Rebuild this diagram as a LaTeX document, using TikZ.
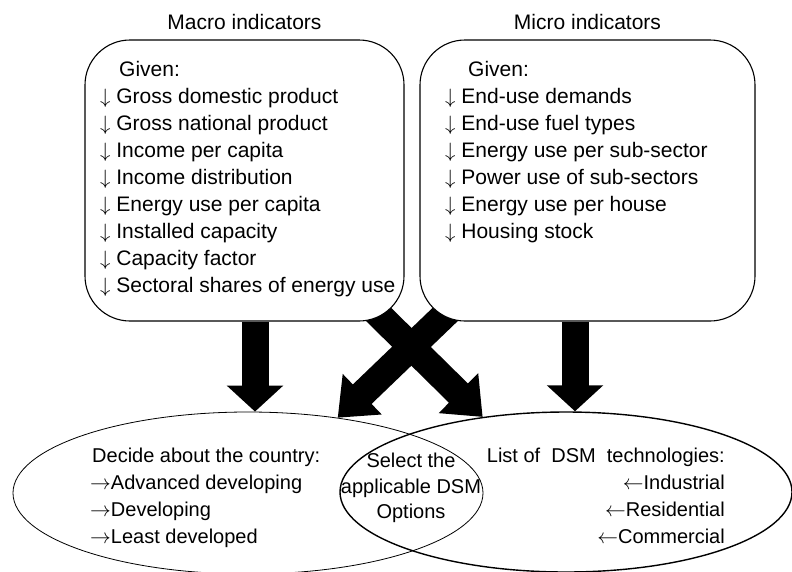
\documentclass[tikz,border=0pt]{standalone}
\usepackage{fontspec}
\setmainfont{Liberation Sans}
\usetikzlibrary{positioning, shapes.geometric, arrows.meta, backgrounds}

\begin{document}
\begin{tikzpicture}[
    x=1pt, y=-1pt,
    panel/.style={draw, fill=white, rounded corners=45pt, line width=1.1pt,
                  minimum width=319pt, minimum height=281pt, inner sep=0pt},
    oval/.style={draw, ellipse, inner sep=0pt, minimum width=470pt,
                 minimum height=162pt, line width=0.8pt},
    title/.style={font=\fontsize{21}{25}\selectfont, inner sep=0pt},
    item/.style={font=\fontsize{21}{25}\selectfont, inner sep=0pt, anchor=base west},
    pick/.style={font=\fontsize{20}{25.5}\selectfont, inner sep=0pt},
    fat/.style={line width=27pt, -{Triangle[width=55pt,length=26pt]}},
    fatx/.style={line width=27pt, -{Triangle[width=54pt,length=34pt]}}
  ]
  \useasboundingbox (0,0) rectangle (792,571);
  \clip (0,0) rectangle (792,571);
  % -- indicator panels --
  \node[panel] (macro) at (244.5,180.5) {};
  \node[panel, minimum width=335pt] (micro) at (587.5,180.5) {};
  \node[title, above=9.5pt of macro] (macrotitle) {Macro indicators};
  \node[title, above=9.5pt of micro] (microtitle) {Micro indicators};
  \node[item] (ma0) at (119,76) {Given:};
  \foreach \t [count=\i] in {Gross domestic product, Gross national product,
      Income per capita, Income distribution, Energy use per capita,
      Installed capacity, Capacity factor, Sectoral shares of energy use}{
    \node[item] (ma\i) at (100,{76+27*\i}) {$\downarrow$ \t};
  }
  \node[item] (mi0) at (468,76) {Given:};
  \foreach \t [count=\i] in {End-use demands, End-use fuel types,
      Energy use per sub-sector, Power use of sub-sectors,
      Energy use per house, Housing stock}{
    \node[item] (mi\i) at (445,{76+27*\i}) {$\downarrow$ \t};
  }
  % -- decision ovals --
  \node[oval] (country) at (248,493) {};
  \node[oval, minimum width=452pt, minimum height=160pt, line width=1.4pt] (dsmtech) at (566,492) {};
  \node[pick, anchor=base west] (cty0) at (92,462) {Decide about the country:};
  \foreach \t [count=\i] in {Advanced developing, Developing, Least developed}{
    \node[pick, anchor=base west] (cty\i) at (90,{462+27.3*\i}) {$\rightarrow$\t};
  }
  \node[pick, anchor=base east] (tec0) at (725,462) {List of~ DSM~ technologies:};
  \foreach \t [count=\i] in {Industrial, Residential, Commercial}{
    \node[pick, anchor=base east] (tec\i) at (725,{462+27.3*\i}) {$\leftarrow$\t};
  }
  \node[pick, align=center] (select) at (411,488) {Select the\\applicable DSM\\Options};
  % -- block arrows, behind the panels --
  \begin{scope}[on background layer]
    \draw[fat] ([xshift=10.5pt]macro.south) -- ([xshift=7pt]country.north);
    \draw[fat] ([xshift=-12.5pt]micro.south) -- ([xshift=9pt]dsmtech.north);
    \draw[fatx] ([shift={(-35,-16)}]macro.south east) -- (dsmtech.138);
    \draw[fatx] ([shift={(35,-16)}]micro.south west) -- (country.40);
  \end{scope}
\end{tikzpicture}
\end{document}
